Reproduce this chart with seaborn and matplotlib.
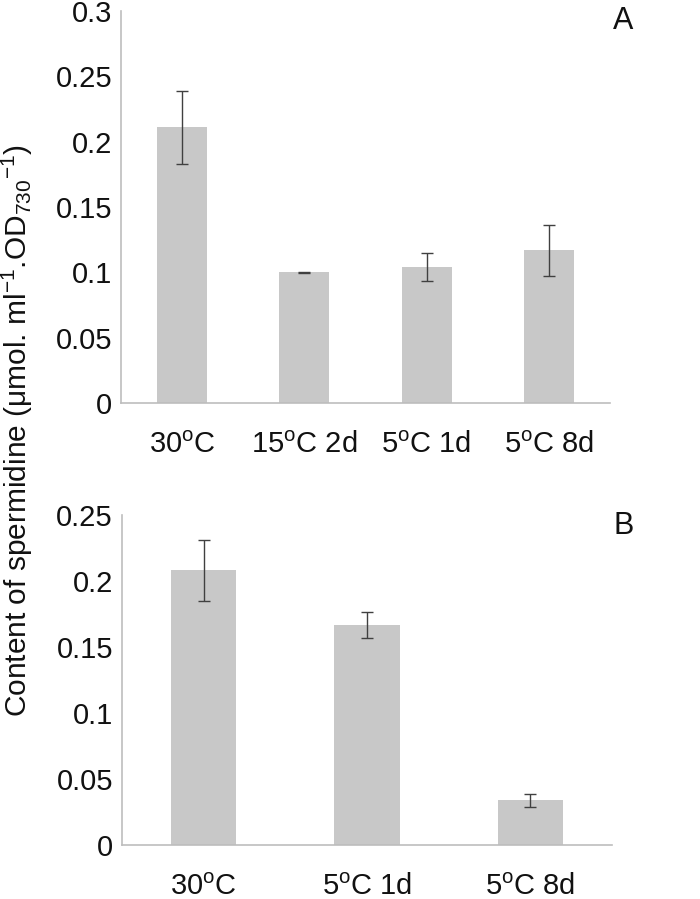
import matplotlib
matplotlib.use("Agg")
import matplotlib.pyplot as plt
import seaborn as sns
import numpy as np
import pandas as pd

# ---- data ----
cats_a = ["30$^{\\mathrm{o}}$C", "15$^{\\mathrm{o}}$C 2d", "5$^{\\mathrm{o}}$C 1d", "5$^{\\mathrm{o}}$C 8d"]
vals_a = [0.211, 0.100, 0.104, 0.117]
errs_a = [0.028, 0.0006, 0.011, 0.0195]

cats_b = ["30$^{\\mathrm{o}}$C", "5$^{\\mathrm{o}}$C 1d", "5$^{\\mathrm{o}}$C 8d"]
vals_b = [0.208, 0.167, 0.034]
errs_b = [0.023, 0.0098, 0.005]

yticks_a = [0, 0.05, 0.1, 0.15, 0.2, 0.25, 0.3]
yticklabels_a = ["0", "0.05", "0.1", "0.15", "0.2", "0.25", "0.3"]
yticks_b = [0, 0.05, 0.1, 0.15, 0.2, 0.25]
yticklabels_b = ["0", "0.05", "0.1", "0.15", "0.2", "0.25"]

sns.set_style("white")
plt.rcParams["font.family"] = ["Liberation Sans", "DejaVu Sans"]
plt.rcParams["mathtext.fontset"] = "custom"
plt.rcParams["mathtext.rm"] = "Liberation Sans"
plt.rcParams["mathtext.it"] = "Liberation Sans:italic"
plt.rcParams["mathtext.bf"] = "Liberation Sans:bold"

FS = 21
TXT = "#111111"
BAR = "#c8c8c8"
AX = "#bdbdbd"
ERR = "#404040"

fig = plt.figure(figsize=(7.0, 8.99), dpi=100)
ax1 = fig.add_axes([0.1729, 0.5517, 0.6985, 0.4361])
ax2 = fig.add_axes([0.1743, 0.0601, 0.7000, 0.3670])


def draw(ax, cats, vals, errs, yticks, ylabels, ymax, width):
    df = pd.DataFrame({"cat": cats, "val": vals})
    sns.barplot(data=df, x="cat", y="val", color=BAR, saturation=1,
                width=width, errorbar=None, ax=ax, edgecolor="none")
    ax.errorbar(np.arange(len(cats)), vals, yerr=errs, fmt="none",
                ecolor=ERR, elinewidth=1.0, capsize=4.5, capthick=1.0)
    ax.set_ylim(0, ymax)
    ax.set_xlim(-0.5, len(cats) - 0.5)
    ax.set_yticks(yticks)
    ax.set_yticklabels(ylabels, fontsize=FS, color=TXT)
    ax.tick_params(axis="y", direction="in", length=7, width=1, color=AX, pad=6.5)
    ax.tick_params(axis="x", length=0, pad=20, labelsize=FS, labelcolor=TXT)
    ax.set_xlabel("")
    ax.set_ylabel("")
    for s in ["top", "right"]:
        ax.spines[s].set_visible(False)
    for s in ["left", "bottom"]:
        ax.spines[s].set_color(AX)
        ax.spines[s].set_linewidth(1.2)


draw(ax1, cats_a, vals_a, errs_a, yticks_a, yticklabels_a, 0.3, 0.41)
draw(ax2, cats_b, vals_b, errs_b, yticks_b, yticklabels_b, 0.25, 0.40)

fig.text(623 / 700, 1 - 21 / 899, "A", fontsize=FS + 1, color=TXT, ha="center", va="center")
fig.text(624 / 700, 1 - 526 / 899, "B", fontsize=FS + 1, color=TXT, ha="center", va="center")

fig.text(0.025, 0.5217,
         "Content of spermidine (\u03bcmol. ml$^{\\mathrm{-1}}$.OD$_{\\mathrm{730}}$$^{\\mathrm{-1}}$)",
         rotation=90, fontsize=21.5, color=TXT, ha="center", va="center")

fig.savefig("out.png", dpi=100)
